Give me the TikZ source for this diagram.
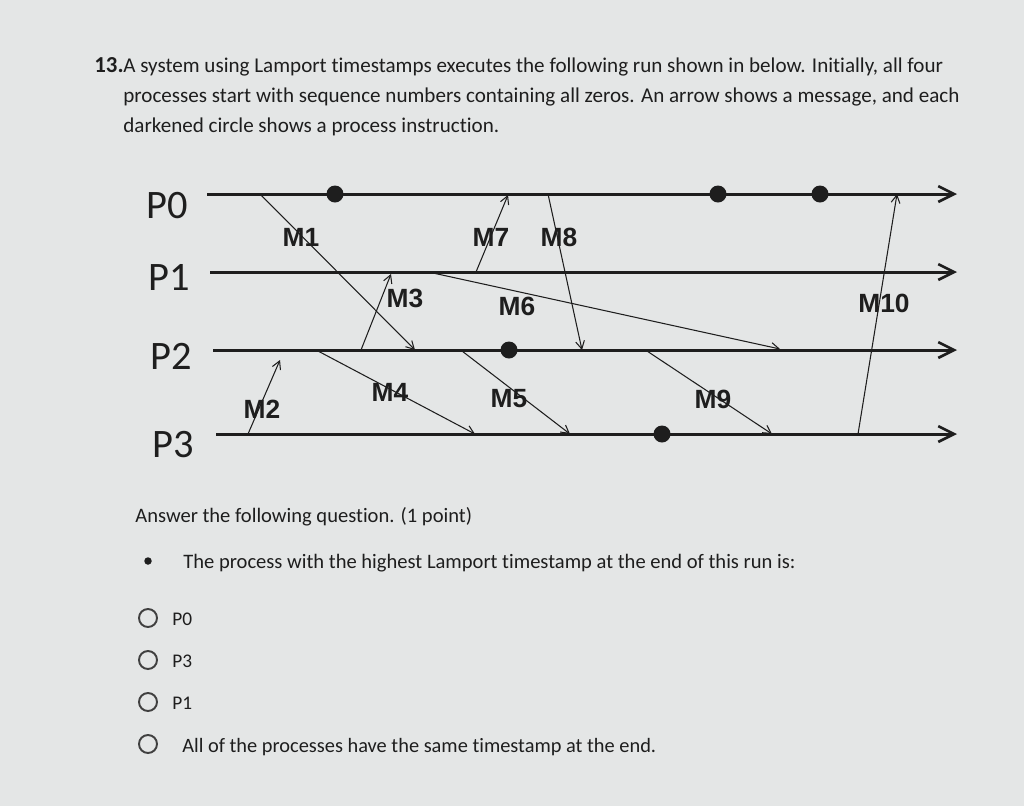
\documentclass[tikz,border=0pt]{standalone}
\usepackage{fontspec}
\setmainfont{Carlito}[Ligatures=NoCommon]
\newfontfamily\msgfont{Liberation Sans}
\usetikzlibrary{arrows.meta}
\definecolor{paper}{RGB}{228,230,230}
\definecolor{ink}{RGB}{30,30,30}
\tikzset{
  proc/.style={line width=1.7pt,draw=ink,-{Straight Barb[length=9pt,width=9pt,line width=1.5pt]}},
  msg/.style={line width=0.6pt,draw=ink,-{Straight Barb[length=4.5pt,width=5pt]}},
  ev/.style={circle,fill=ink,inner sep=0pt,minimum size=0.34cm},
  plab/.style={font=\fontsize{23}{26}\selectfont,text=ink,inner sep=0pt},
  mlab/.style={font=\msgfont\bfseries\fontsize{15}{18}\selectfont,text=ink,inner sep=0pt},
  txt/.style={anchor=base west,text=ink,inner sep=0pt},
  radio/.style={circle,draw=ink!85,line width=1.1pt,inner sep=0pt,minimum size=0.36cm}
}
\begin{document}
\begin{tikzpicture}[x=0.02cm,y=-0.02cm]
\useasboundingbox[fill=paper] (0,0) rectangle (1024,806);

% question text
\node[txt,font=\fontsize{13}{15}\selectfont\bfseries] (num) at (94,72) {13.};
\node[txt,font=\fontsize{12}{14}\selectfont] (q1) at (123,72) {A system using Lamport timestamps executes the following run shown in below. Initially, all four};
\node[txt,font=\fontsize{12}{14}\selectfont] (q2) at (123,102) {processes start with sequence numbers containing all zeros. An arrow shows a message, and each};
\node[txt,font=\fontsize{12}{14}\selectfont] (q3) at (123,132) {darkened circle shows a process instruction.};

% process labels
\node[plab] (p0) at (167,206) {P0};
\node[plab] (p1) at (169,277) {P1};
\node[plab] (p2) at (171,356) {P2};
\node[plab] (p3) at (173,445) {P3};

% process lines
\coordinate (p0s) at (207,194); \coordinate (p0e) at (957,194);
\coordinate (p1s) at (210,272); \coordinate (p1e) at (957,272);
\coordinate (p2s) at (213,350); \coordinate (p2e) at (957,350);
\coordinate (p3s) at (216,434); \coordinate (p3e) at (957,434);
\draw[proc] (p0s) -- (p0e);
\draw[proc] (p1s) -- (p1e);
\draw[proc] (p2s) -- (p2e);
\draw[proc] (p3s) -- (p3e);

% instructions
\node[ev] (e1) at (335,194) {};
\node[ev] (e2) at (718,194) {};
\node[ev] (e3) at (820,194) {};
\node[ev] (e4) at (509,350) {};
\node[ev] (e5) at (662,434) {};

% message end points
\coordinate (m1s) at (260,194);  \coordinate (m1e) at (415,350);
\coordinate (m2s) at (248,434);  \coordinate (m2e) at (280,360);
\coordinate (m3s) at (361,350);  \coordinate (m3e) at (391,274);
\coordinate (m4s) at (318,351);  \coordinate (m4e) at (475,434);
\coordinate (m5s) at (462,351);  \coordinate (m5e) at (570,434);
\coordinate (m6s) at (433,273);  \coordinate (m6e) at (780,349);
\coordinate (m7s) at (476,272);  \coordinate (m7e) at (508,195);
\coordinate (m8s) at (548,194);  \coordinate (m8e) at (582,350);
\coordinate (m9s) at (647,351);  \coordinate (m9e) at (772,434);
\coordinate (m10s) at (858,434); \coordinate (m10e) at (897,194);
\draw[msg] (m1s) -- (m1e);
\draw[msg] (m2s) -- (m2e);
\draw[msg] (m3s) -- (m3e);
\draw[msg] (m4s) -- (m4e);
\draw[msg] (m5s) -- (m5e);
\draw[msg] (m6s) -- (m6e);
\draw[msg] (m7s) -- (m7e);
\draw[msg] (m8s) -- (m8e);
\draw[msg] (m9s) -- (m9e);
\draw[msg] (m10s) -- (m10e);

% message labels
\node[mlab] (l1) at (301,237) {M1};
\node[mlab] (l2) at (262,409) {M2};
\node[mlab] (l3) at (405,298) {M3};
\node[mlab] (l4) at (390,392) {M4};
\node[mlab] (l5) at (509,399) {M5};
\node[mlab] (l6) at (517,306) {M6};
\node[mlab] (l7) at (491,237) {M7};
\node[mlab] (l8) at (559,237) {M8};
\node[mlab] (l9) at (713,399) {M9};
\node[mlab] (l10) at (884,303) {M10};

% answer part
\node[txt,font=\fontsize{11.7}{14}\selectfont] (ans) at (135,522) {Answer the following question. (1 point)};
\node[circle,fill=ink,inner sep=0pt,minimum size=0.15cm] (bul) at (148,561) {};
\node[txt,font=\fontsize{11.7}{14}\selectfont] (qq) at (183,568) {The process with the highest Lamport timestamp at the end of this run is:};
\node[radio] (r1) at (148,618) {};
\node[radio] (r2) at (148,660) {};
\node[radio] (r3) at (148,702) {};
\node[radio] (r4) at (148,744) {};
\node[txt,font=\fontsize{11}{13}\selectfont] (o1) at (172,625) {P0};
\node[txt,font=\fontsize{11}{13}\selectfont] (o2) at (172,667) {P3};
\node[txt,font=\fontsize{11}{13}\selectfont] (o3) at (172,709) {P1};
\node[txt,font=\fontsize{11.6}{14}\selectfont] (o4) at (182,752) {All of the processes have the same timestamp at the end.};
\end{tikzpicture}
\end{document}
